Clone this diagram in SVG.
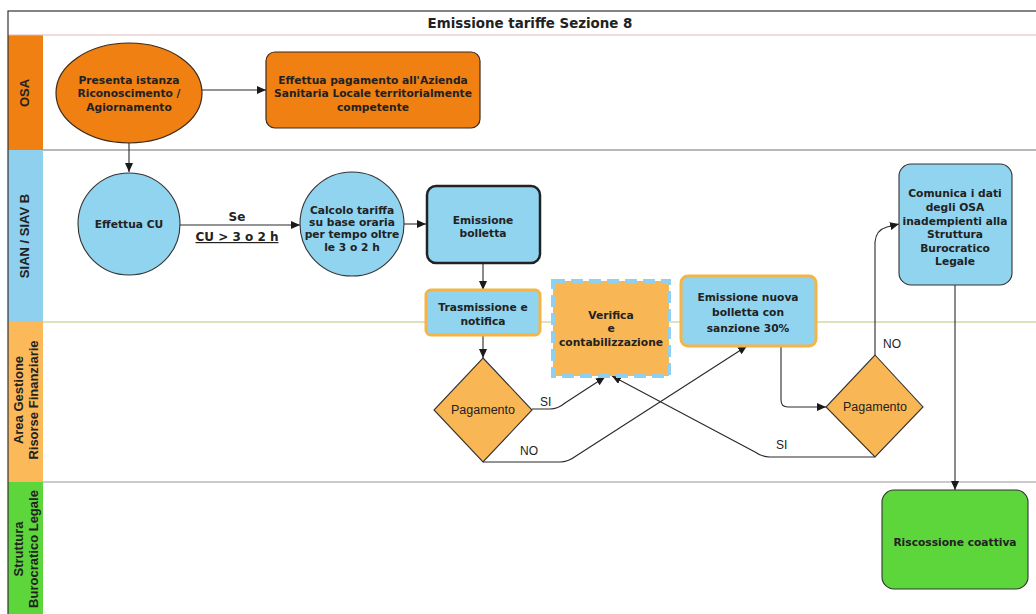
<svg xmlns="http://www.w3.org/2000/svg" width="1036" height="614" viewBox="0 0 1036 614">
<defs>
<marker id="ah" markerWidth="9" markerHeight="8" refX="9" refY="4" orient="auto" markerUnits="userSpaceOnUse">
<path d="M0,0 L9,4 L0,8 z" fill="#1a1a1a"/>
</marker>
<style>
.nt{font-family:"DejaVu Sans",Verdana,sans-serif;font-size:10.7px;font-weight:bold;fill:#222;text-anchor:middle}
.lt{font-family:"Liberation Sans",Arial,sans-serif;font-size:13px;font-weight:bold;fill:#222;text-anchor:middle}
.el{font-family:"Liberation Sans",Arial,sans-serif;font-size:12px;fill:#222}
.dt{font-family:"Liberation Sans",Arial,sans-serif;font-size:12.5px;fill:#222;text-anchor:middle}
.c{fill:none;stroke:#2a2a2a;stroke-width:1.1;marker-end:url(#ah)}
.osa{fill:#F08012;stroke:#3a2a1a;stroke-width:1.2}
.blue{fill:#90D4F0;stroke:#333;stroke-width:1.1}
.org{fill:#F9B654;stroke:#333;stroke-width:1.1}
</style>
</defs>
<rect x="0" y="0" width="1036" height="614" fill="#fff"/>
<g id="lanes">
<rect x="8" y="35" width="35" height="115" fill="#F08012"/>
<rect x="8" y="150" width="35" height="172" fill="#8ED0EE"/>
<rect x="8" y="322" width="35" height="160" fill="#FBB95A"/>
<rect x="8" y="482" width="35" height="132" fill="#5CD63A"/>
<line x1="8" y1="35" x2="1036" y2="35" stroke="#e0b8b8" stroke-width="1"/>
<line x1="43" y1="150" x2="1036" y2="150" stroke="#a0a0a0" stroke-width="1.5"/>
<line x1="43" y1="322" x2="1036" y2="322" stroke="#cfd9a8" stroke-width="1.5"/>
<line x1="43" y1="482" x2="1036" y2="482" stroke="#b8b8b8" stroke-width="1.5"/>
<rect x="8" y="11" width="1030" height="610" fill="none" stroke="#333" stroke-width="1.2"/>
<text x="530" y="28" font-family="DejaVu Sans,Verdana,sans-serif" font-size="13.4" font-weight="bold" fill="#222" text-anchor="middle">Emissione tariffe Sezione 8</text>
<text class="lt" transform="translate(25,93) rotate(-90)" y="4">OSA</text>
<text class="lt" transform="translate(25,236) rotate(-90)" y="4">SIAN / SIAV B</text>
<text class="lt" transform="translate(26,400) rotate(-90)"><tspan x="0" y="-3">Area Gestione</tspan><tspan x="0" y="12">Risorse Finanziarie</tspan></text>
<text class="lt" transform="translate(26,549) rotate(-90)"><tspan x="0" y="-3">Struttura</tspan><tspan x="0" y="12">Burocratico Legale</tspan></text>
</g>
<g id="connectors">
<path class="c" d="M202,90 L266,90"/>
<path class="c" d="M129,143 L129,172"/>
<path class="c" d="M180,225 L300,225"/>
<path class="c" d="M404,224 L426,224"/>
<path class="c" d="M483,263 L483,290"/>
<path class="c" d="M483,335 L483,358"/>
<path class="c" d="M532,409 L550,409 Q558,409 565,403 L605,377"/>
<path class="c" d="M483,462 L560,462 Q568,462 576,456 L747,346"/>
<path class="c" d="M781,346 L781,400 Q781,407 788,407 L826,407"/>
<path class="c" d="M875,457 L770,457 Q762,457 755,452 L612,376"/>
<path class="c" d="M875,355 L875,242 Q876,230 887,227 L899,224"/>
<path class="c" d="M955,285 L955,490"/>
<text x="237" y="221" font-family="DejaVu Sans,Verdana,sans-serif" font-size="12" font-weight="bold" fill="#222" text-anchor="middle">Se</text>
<text x="237" y="241" font-family="DejaVu Sans,Verdana,sans-serif" font-size="12" font-weight="bold" fill="#222" text-anchor="middle" text-decoration="underline">CU &gt; 3 o 2 h</text>
<text class="el" x="540" y="406">SI</text>
<text class="el" x="520" y="455">NO</text>
<text class="el" x="776" y="449">SI</text>
<text class="el" x="883" y="348">NO</text>
</g>
<g id="n1"><ellipse class="osa" cx="129" cy="93" rx="73" ry="50"/>
<text class="nt"><tspan x="129" y="84">Presenta istanza</tspan><tspan x="129" y="97">Riconoscimento /</tspan><tspan x="129" y="111">Agiornamento</tspan></text></g>
<g id="n2"><rect class="osa" x="266" y="52" width="214" height="76" rx="9"/>
<text class="nt"><tspan x="373" y="84">Effettua pagamento all'Azienda</tspan><tspan x="373" y="97">Sanitaria Locale territorialmente</tspan><tspan x="373" y="111">competente</tspan></text></g>
<g id="n3"><circle class="blue" cx="129" cy="224" r="51"/>
<text class="nt" x="129" y="228">Effettua CU</text></g>
<g id="n4"><circle class="blue" cx="352" cy="224" r="52"/>
<text class="nt"><tspan x="352" y="214">Calcolo tariffa</tspan><tspan x="352" y="226">su base oraria</tspan><tspan x="352" y="238">per tempo oltre</tspan><tspan x="352" y="251">le 3 o 2 h</tspan></text></g>
<g id="n5"><rect x="427" y="186" width="113" height="77" rx="9" fill="#90D4F0" stroke="#222" stroke-width="2.5"/>
<text class="nt"><tspan x="483" y="224">Emissione</tspan><tspan x="483" y="237">bolletta</tspan></text></g>
<g id="n6"><rect x="426" y="290" width="114" height="45" rx="5" fill="#90D4F0" stroke="#F5B444" stroke-width="3"/>
<text class="nt"><tspan x="483" y="311">Trasmissione e</tspan><tspan x="483" y="325">notifica</tspan></text></g>
<g id="n7"><rect x="553" y="281" width="116" height="95" fill="#F9B654" stroke="#8ED0EE" stroke-width="4" stroke-dasharray="12,6"/>
<text class="nt"><tspan x="611" y="319">Verifica</tspan><tspan x="611" y="332">e</tspan><tspan x="611" y="346">contabilizzazione</tspan></text></g>
<g id="n8"><rect x="681" y="276" width="135" height="70" rx="7" fill="#90D4F0" stroke="#F5B444" stroke-width="3"/>
<text class="nt"><tspan x="748" y="301">Emissione nuova</tspan><tspan x="748" y="316">bolletta con</tspan><tspan x="748" y="332">sanzione 30%</tspan></text></g>
<g id="n9"><rect class="blue" x="899" y="164" width="113" height="121" rx="12"/>
<text class="nt"><tspan x="955" y="197">Comunica i dati</tspan><tspan x="955" y="211">degli OSA</tspan><tspan x="955" y="225">inadempienti alla</tspan><tspan x="955" y="238">Struttura</tspan><tspan x="955" y="252">Burocratico</tspan><tspan x="955" y="265">Legale</tspan></text></g>
<g id="d1"><path class="org" d="M483,358 L532,410 L483,462 L434,410 z"/>
<text class="dt" x="483" y="414">Pagamento</text></g>
<g id="d2"><path class="org" d="M875,355 L923,407 L875,457 L826,407 z"/>
<text class="dt" x="875" y="411">Pagamento</text></g>
<g id="n10"><rect x="882" y="490" width="146" height="99" rx="12" fill="#5CD63A" stroke="#333" stroke-width="1.1"/>
<text class="nt" x="955" y="546">Riscossione coattiva</text></g>
</svg>
